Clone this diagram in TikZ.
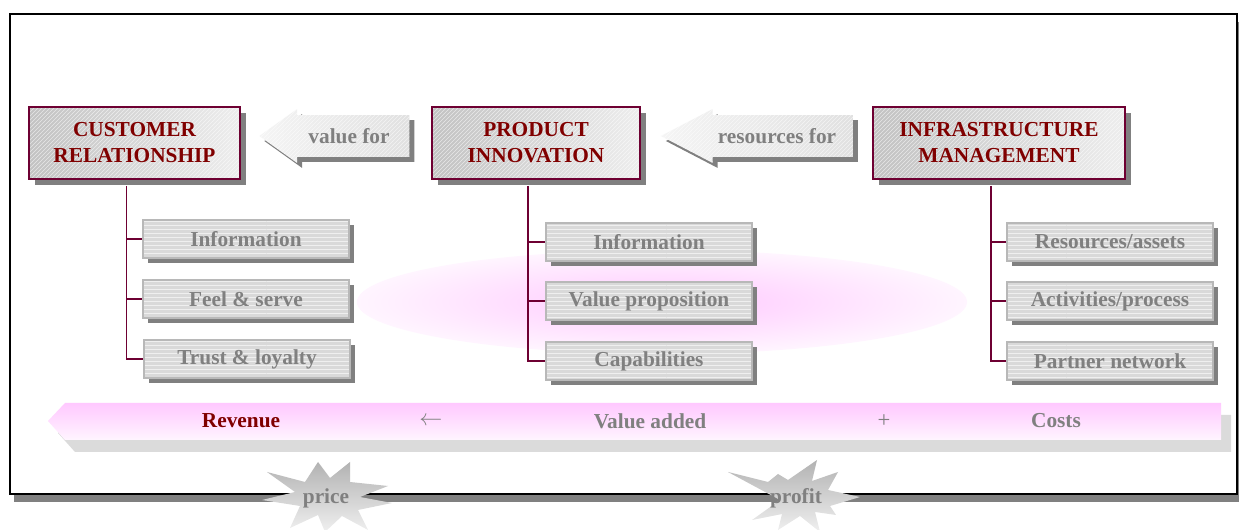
\documentclass[tikz,border=0pt]{standalone}
\usepackage{fontspec}
\setmainfont{Liberation Serif}
\usepackage{xcolor}
\usetikzlibrary{shapes.arrows,shadows,patterns}

\definecolor{boxline}{RGB}{110,0,50}
\definecolor{titlered}{RGB}{128,0,0}
\definecolor{softgray}{RGB}{128,128,128}
\definecolor{pinktop}{RGB}{255,200,255}
\definecolor{pinkbot}{RGB}{255,245,255}

\begin{document}
\begin{tikzpicture}[x=0.75pt, y=-0.75pt,
    every node/.style={font=\bfseries\fontsize{16}{19.5}\selectfont},
    headbox/.style={draw=boxline, line width=1.2pt, text=titlered, align=center, minimum height=54pt,
        drop shadow={shadow xshift=4.5pt, shadow yshift=-4.5pt, fill=softgray, opacity=1},
        preaction={left color=black!24, right color=black!7},
        preaction={pattern=north east lines, pattern color=white, opacity=0.6}},
    itembox/.style={draw=black!28, line width=0.8pt, text=softgray,
        minimum width=154.5pt, minimum height=28.5pt,
        drop shadow={shadow xshift=3.75pt, shadow yshift=-3.75pt, fill=softgray, opacity=1},
        preaction={fill=black!15},
        preaction={pattern=horizontal lines, pattern color=white, opacity=0.6}},
    flow/.style={single arrow, shape border rotate=180, text=softgray,
        text height=11pt, text depth=0pt, inner ysep=10pt, single arrow head extend=4.5pt,
        drop shadow={shadow xshift=3.75pt, shadow yshift=-3.75pt, fill=softgray, opacity=1},
        preaction={left color=black!4, right color=black!12},
        preaction={pattern=north east lines, pattern color=white, opacity=0.6}},
    tree/.style={boxline, line width=1.2pt},
    burst/.style={top color=black!30, bottom color=black!6},
    ]
\useasboundingbox (0,0) rectangle (1239,530);

% frame
\fill[softgray] (14,22) rectangle (1245,502);
\draw[line width=1.5pt, fill=white] (10,14) rectangle (1237,494);

\shade[inner color=pinktop, outer color=pinkbot] (662,302) ellipse [x radius=305, y radius=52];

% value chain band
\fill[black!14] (58,433) -- (75,415) -- (1231,415) -- (1231,452) -- (75,452) -- cycle;
\shade[top color=pinktop, bottom color=pinkbot] (48,421) -- (65,403) -- (1221,403) -- (1221,440) -- (65,440) -- cycle;
\node[text=titlered] (revenue) at (241,421) {Revenue};
\node[text=softgray, font=\fontsize{16}{19.5}\selectfont] (gets) at (431,421) {$\leftarrow$};
\node[text=softgray] (added) at (650,421) {Value added};
\node[text=softgray, font=\fontsize{17}{19.5}\selectfont] (plus) at (884,421) {+};
\node[text=softgray] (costs) at (1056,421) {Costs};

% pillars
\node[headbox, minimum width=158pt] (cust) at (134.5,143) {CUSTOMER\\RELATIONSHIP};
\node[headbox, minimum width=156pt] (prod) at (536,143) {PRODUCT\\INNOVATION};
\node[headbox, minimum width=189pt] (infra) at (999,143) {INFRASTRUCTURE\\MANAGEMENT};

\node[flow, minimum height=112.5pt, single arrow tip angle=71] (valuefor) at (349,136) {value for};
\node[flow, minimum height=144pt, single arrow tip angle=55] (resfor) at (777,136) {resources for};

\node[itembox] (cinfo) at (246,239) {Information};
\node[itembox] (cfeel) at (246,299) {Feel \& serve};
\node[itembox] (ctrust) at (247,359) {Trust \& loyalty};

\node[itembox] (pinfo) at (649,242) {Information};
\node[itembox] (pvalue) at (649,301) {Value proposition};
\node[itembox] (pcap) at (649,361) {Capabilities};

\node[itembox] (iassets) at (1110,242) {Resources/assets};
\node[itembox] (iproc) at (1110,301) {Activities/process};
\node[itembox] (ipartner) at (1110,361) {Partner network};

\coordinate (ctop) at ([xshift=-6pt,yshift=-4.5pt]cust.south);
\coordinate (ptop) at ([xshift=-6pt,yshift=-4.5pt]prod.south);
\coordinate (itop) at ([xshift=-6pt,yshift=-4.5pt]infra.south);
\draw[tree] (ctop) |- (ctrust.west) (ctop |- cinfo.west) -- (cinfo.west) (ctop |- cfeel.west) -- (cfeel.west);
\draw[tree] (ptop) |- (pcap.west) (ptop |- pinfo.west) -- (pinfo.west) (ptop |- pvalue.west) -- (pvalue.west);
\draw[tree] (itop) |- (ipartner.west) (itop |- iassets.west) -- (iassets.west) (itop |- iproc.west) -- (iproc.west);

% bursts over the frame
\shade[burst] (267,472) -- (305,482) -- (318,462) -- (330,478) -- (350,462) -- (350,482) -- (388,486) -- (360,497) -- (392,503) -- (358,510) -- (368,530) -- (342,516) -- (325,532) -- (318,515) -- (290,528) -- (300,506) -- (262,500) -- (295,492) -- cycle;
\shade[burst] (728,472) -- (768,482) -- (778,474) -- (788,480) -- (817,460) -- (812,481) -- (838,472) -- (828,490) -- (860,497) -- (830,506) -- (836,515) -- (815,512) -- (820,532) -- (800,516) -- (778,530) -- (782,514) -- (752,520) -- (780,500) -- cycle;
\node[text=softgray] (price) at (326,498) {price};
\node[text=softgray] (profit) at (796,498) {profit};
\end{tikzpicture}
\end{document}
